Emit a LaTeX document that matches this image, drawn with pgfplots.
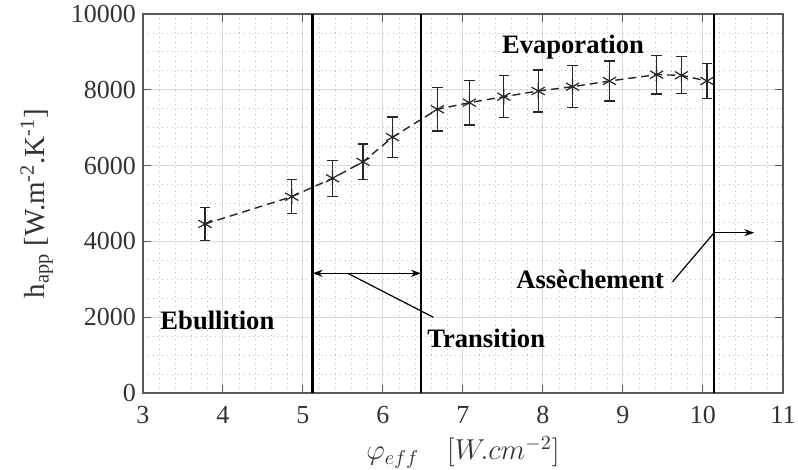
\documentclass[border=0pt]{standalone}
\usepackage{fontspec}
\setmainfont{Liberation Serif}
\usepackage{pgfplots}
\pgfplotsset{compat=1.18}
\usetikzlibrary{arrows.meta}

\pgfplotstableread{
x      y     e
3.775  4460  440
4.86   5180  450
5.37   5665  470
5.75   6100  470
6.12   6750  530
6.68   7485  570
7.08   7660  590
7.51   7818  555
7.94   7968  555
8.37   8082  550
8.83   8232  530
9.42   8399  510
9.73   8382  490
10.05  8232  470
}\happ

\begin{document}
\begin{tikzpicture}
\useasboundingbox (-71.5pt,-38.5pt) rectangle (327.5pt,196.5pt);
\begin{axis}[
  scale only axis, width=320pt, height=189.5pt,
  xmin=3, xmax=11, ymin=0, ymax=10000,
  xtick={3,...,11}, ytick={0,2000,...,10000},
  minor x tick num=4, minor y tick num=3,
  grid=both,
  major grid style={black!15, line width=0.5pt},
  minor grid style={black!25, dotted, line width=0.4pt},
  axis line style={black!65, line width=0.6pt},
  tick style={black!65, line width=0.5pt},
  tick align=inside, major tick length=4pt, minor tick length=0pt,
  scaled y ticks=false,
  yticklabel style={/pgf/number format/1000 sep={}},
  /pgf/number format/assume math mode=true,
  ticklabel style={font=\fontsize{13}{15}\selectfont, text=black!80},
  xticklabel style={yshift=-3pt},
  ylabel={h\textsubscript{app} [W.m\textsuperscript{-2}.K\textsuperscript{-1}]},
  ylabel style={font=\fontsize{14.5}{16}\selectfont, text=black!80, at={(axis description cs:-0.166,0.5)}, anchor=center},
  xlabel={$\varphi_{eff}\quad[W.cm^{-2}]$},
  xlabel style={font=\fontsize{14}{16}\selectfont, text=black!80, at={(axis description cs:0.5,-0.156)}, anchor=center},
]
\addplot[black!85, line width=0.7pt, dash pattern=on 4pt off 2.5pt,
  mark=asterisk, mark size=3.8pt, mark options={solid, line width=0.6pt},
  error bars/.cd, y dir=both, y explicit,
  error bar style={solid, line width=0.6pt, black!85},
  error mark options={rotate=90, mark size=2.6pt, line width=0.6pt, black!85}]
  table[x=x, y=y, y error=e] {\happ};

\addplot[black, line width=1.2pt] coordinates {(5.12,0) (5.12,10000)};
\addplot[black, line width=1.2pt] coordinates {(6.475,0) (6.475,10000)};
\addplot[black, line width=1.2pt] coordinates {(10.14,0) (10.14,10000)};

\addplot[black, line width=0.6pt, {Stealth[length=5pt,width=3.5pt]}-{Stealth[length=5pt,width=3.5pt]}] coordinates {(5.12,3158) (6.475,3158)};
\addplot[black, line width=0.6pt] coordinates {(5.56,3158) (6.63,1997)};
\addplot[black, line width=0.6pt, -{Stealth[length=5pt,width=3.5pt]}] coordinates {(10.14,4230) (10.64,4230)};
\addplot[black, line width=0.6pt] coordinates {(10.14,4230) (9.62,2937)};

\node[font=\bfseries\fontsize{13.3}{15}\selectfont] at (axis cs:8.375,9130) {Evaporation};
\node[font=\bfseries\fontsize{13.3}{15}\selectfont] at (axis cs:3.93,1908) {Ebullition};
\node[font=\bfseries\fontsize{13.3}{15}\selectfont] at (axis cs:7.29,1443) {Transition};
\node[font=\bfseries\fontsize{13.3}{15}\selectfont] at (axis cs:8.59,3000) {Assèchement};
\end{axis}
\end{tikzpicture}
\end{document}
